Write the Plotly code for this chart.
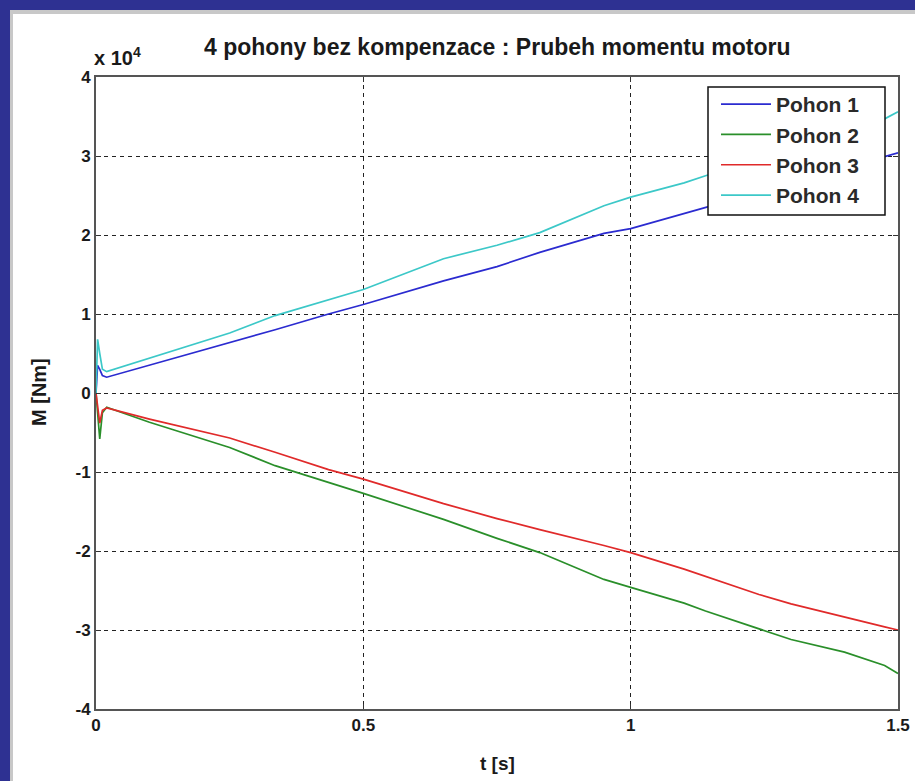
import plotly.graph_objects as go

# ---- data (torque in Nm, time in s) ----
t = [0, 0.003, 0.007, 0.012, 0.02, 0.1, 0.25, 0.335, 0.435, 0.5, 0.65, 0.75,
     0.83, 0.95, 1.0, 1.1, 1.14, 1.24, 1.3, 1.4, 1.475, 1.5]
pohon1 = [0, 3500, 3000, 2200, 2000, 3500, 6400, 8000, 10000, 11200, 14200, 16000,
          17800, 20200, 20800, 22700, 23500, 25400, 26600, 28500, 29900, 30400]
pohon2 = [0, -3000, -5800, -2500, -1800, -3700, -6900, -9200, -11300, -12700, -16000, -18400,
          -20200, -23600, -24600, -26600, -27600, -29800, -31200, -32800, -34500, -35500]
pohon3 = [0, -1500, -3800, -2200, -1900, -3300, -5700, -7500, -9700, -10900, -14000, -15900,
          -17300, -19300, -20200, -22300, -23200, -25500, -26700, -28400, -29600, -30000]
pohon4 = [0, 6800, 5000, 3000, 2700, 4400, 7600, 9800, 11800, 13100, 17000, 18700,
          20300, 23700, 24800, 26600, 27500, 29600, 31000, 33000, 34700, 35600]

names = ["Pohon 1", "Pohon 2", "Pohon 3", "Pohon 4"]
colors = ["#2b2bd0", "#2a8f2a", "#e02a2a", "#3cc8c8"]
series = [pohon1, pohon2, pohon3, pohon4]

y_ticks = [-40000, -30000, -20000, -10000, 0, 10000, 20000, 30000, 40000]
y_ticktext = ["<b>-4</b>", "<b>-3</b>", "<b>-2</b>", "<b>-1</b>", "<b>0</b>",
              "<b>1</b>", "<b>2</b>", "<b>3</b>", "<b>4</b>"]
x_ticks = [0, 0.5, 1, 1.5]
x_ticktext = ["<b>0</b>", "<b>0.5</b>", "<b>1</b>", "<b>1.5</b>"]

W, H = 915, 781
L, R, T, B = 96, 17, 77, 72
pw, ph = W - L - R, H - T - B

def px(xp):
    return (xp - L) / pw

def py(yp):
    return (H - B - yp) / ph

FONT = "Liberation Sans, Arial, sans-serif"
TXT = "#1a1a1a"

fig = go.Figure()
for n, c, s in zip(names, colors, series):
    fig.add_trace(go.Scatter(x=t, y=s, mode="lines", name="<b>" + n + "</b>",
                             line=dict(color=c, width=1.7)))

axis_common = dict(showline=True, linecolor="#555555", linewidth=2, mirror="ticks",
                   ticks="inside", ticklen=5, tickcolor="#333333",
                   showgrid=True, gridcolor="#222222", gridwidth=1,
                   griddash="4px,4px", zeroline=False, automargin=False,
                   tickfont=dict(family=FONT, size=17, color=TXT))

fig.update_layout(
    width=W, height=H,
    margin=dict(l=L, r=R, t=T, b=B, pad=0, autoexpand=False),
    paper_bgcolor="#2E3192",
    plot_bgcolor="white",
    showlegend=True,
    legend=dict(x=px(716), y=py(84), xanchor="left", yanchor="top",
                bgcolor="rgba(0,0,0,0)", borderwidth=0,
                font=dict(family=FONT, size=21, color="#2a2a2a"),
                itemwidth=50, tracegroupgap=0),
    xaxis=dict(range=[0, 1.5], tickvals=x_ticks, ticktext=x_ticktext, **axis_common),
    yaxis=dict(range=[-40000, 40000], tickvals=y_ticks, ticktext=y_ticktext, **axis_common),
    shapes=[
        dict(type="rect", xref="paper", yref="paper", layer="below",
             x0=px(10), x1=px(W + 5), y0=py(H + 5), y1=py(10),
             fillcolor="#c8c8c8", line=dict(width=0)),
        dict(type="rect", xref="paper", yref="paper", layer="below",
             x0=px(13), x1=px(W + 5), y0=py(H + 5), y1=py(14),
             fillcolor="white", line=dict(width=0)),
        dict(type="rect", xref="paper", yref="paper", layer="above",
             x0=px(708), x1=px(885), y0=py(215), y1=py(87),
             fillcolor="white", line=dict(color="#111111", width=1.5)),
    ],
    annotations=[
        dict(text="<b>4 pohony bez kompenzace : Prubeh momentu motoru</b>", xref="paper", yref="paper",
             x=px(497), y=py(47), xanchor="center", yanchor="middle", showarrow=False,
             font=dict(family=FONT, size=23, color=TXT)),
        dict(text="<b>x 10<sup>4</sup></b>", xref="paper", yref="paper",
             x=px(92), y=py(56), xanchor="left", yanchor="middle", showarrow=False,
             font=dict(family=FONT, size=20, color=TXT)),
        dict(text="<b>M [Nm]</b>", xref="paper", yref="paper", textangle=-90,
             x=px(39), y=py(392), xanchor="center", yanchor="middle", showarrow=False,
             font=dict(family=FONT, size=20, color=TXT)),
        dict(text="<b>t [s]</b>", xref="paper", yref="paper",
             x=px(497), y=py(763), xanchor="center", yanchor="middle", showarrow=False,
             font=dict(family=FONT, size=19, color=TXT)),
    ],
)

fig.write_html("out.html")
